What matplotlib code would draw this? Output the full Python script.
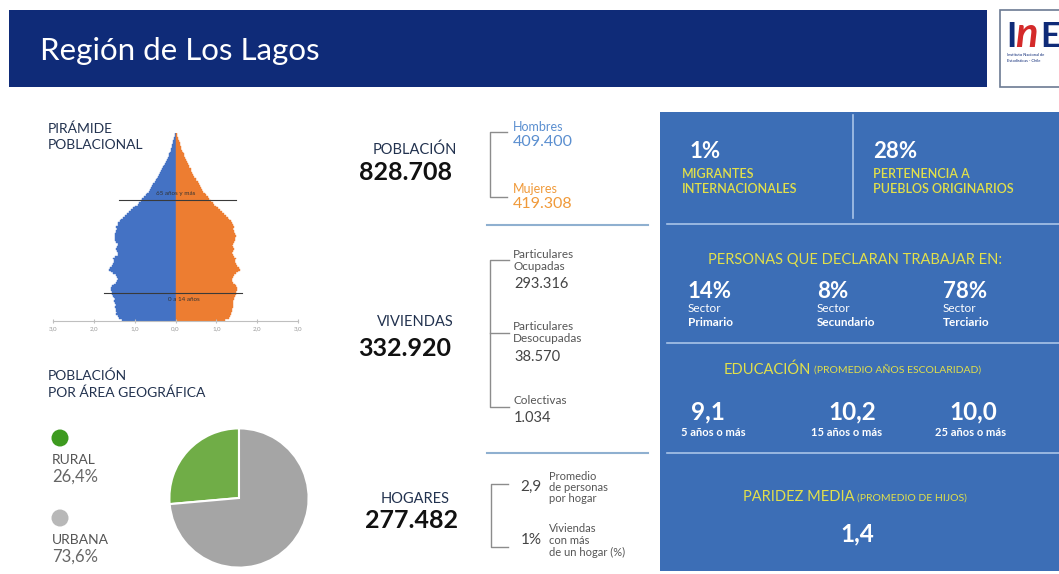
import matplotlib.pyplot as plt
import matplotlib.patches as mpatches
import numpy as np

plt.rcParams['font.family'] = ['Lato', 'DejaVu Sans']

# pirámide poblacional: % por sexo, edades simples 0..100
hombres = [1.30, 1.38, 1.42, 1.45, 1.44, 1.46, 1.45, 1.47, 1.46, 1.48,
           1.50, 1.49, 1.51, 1.53, 1.55, 1.56, 1.57, 1.58, 1.55, 1.50,
           1.46, 1.43, 1.42, 1.44, 1.46, 1.52, 1.58, 1.62, 1.60, 1.56,
           1.52, 1.50, 1.51, 1.52, 1.47, 1.42, 1.40, 1.43, 1.46, 1.44,
           1.40, 1.42, 1.46, 1.48, 1.47, 1.49, 1.47, 1.45, 1.46, 1.44,
           1.45, 1.42, 1.40, 1.37, 1.33, 1.28, 1.23, 1.18, 1.13, 1.08,
           1.03, 0.98, 0.93, 0.89, 0.85, 0.81, 0.77, 0.73, 0.70, 0.66,
           0.63, 0.60, 0.57, 0.54, 0.51, 0.48, 0.45, 0.42, 0.40, 0.37,
           0.35, 0.32, 0.30, 0.27, 0.25, 0.23, 0.21, 0.19, 0.17, 0.15,
           0.13, 0.12, 0.10, 0.09, 0.08, 0.06, 0.05, 0.04, 0.03, 0.02, 0.02]
mujeres = [1.22, 1.30, 1.34, 1.37, 1.36, 1.39, 1.38, 1.40, 1.41, 1.40,
           1.42, 1.44, 1.43, 1.45, 1.47, 1.49, 1.50, 1.51, 1.49, 1.45,
           1.41, 1.39, 1.38, 1.40, 1.43, 1.48, 1.53, 1.57, 1.55, 1.51,
           1.47, 1.45, 1.46, 1.48, 1.44, 1.40, 1.38, 1.41, 1.44, 1.42,
           1.39, 1.41, 1.44, 1.46, 1.45, 1.47, 1.45, 1.43, 1.44, 1.42,
           1.43, 1.41, 1.39, 1.36, 1.32, 1.28, 1.23, 1.18, 1.13, 1.09,
           1.04, 1.00, 0.95, 0.91, 0.87, 0.83, 0.79, 0.75, 0.72, 0.68,
           0.65, 0.62, 0.59, 0.57, 0.54, 0.51, 0.49, 0.46, 0.44, 0.41,
           0.39, 0.37, 0.34, 0.32, 0.30, 0.28, 0.26, 0.24, 0.22, 0.20,
           0.18, 0.16, 0.14, 0.13, 0.11, 0.10, 0.08, 0.07, 0.05, 0.04, 0.03]
pyr_ticks = [-3, -2, -1, 0, 1, 2, 3]
pyr_ticklabels = ['3,0', '2,0', '1,0', '0,0', '1,0', '2,0', '3,0']

# área geográfica
area_labels = ['RURAL', 'URBANA']
area_values = [26.4, 73.6]
area_texts = ['26,4%', '73,6%']

# columna central
poblacion = '828.708'
sexo_labels = ['Hombres', 'Mujeres']
sexo_values = ['409.400', '419.308']
viviendas = '332.920'
viv_labels = [['Particulares', 'Ocupadas'], ['Particulares', 'Desocupadas'], ['Colectivas']]
viv_values = ['293.316', '38.570', '1.034']
hogares = '277.482'
hog_values = ['2,9', '1%']
hog_labels = [['Promedio', 'de personas', 'por hogar'], ['Viviendas', 'con más', 'de un hogar (%)']]

# panel derecho
migrantes = '1%'
pueblos = '28%'
sector_values = ['14%', '8%', '78%']
sector_labels = ['Primario', 'Secundario', 'Terciario']
edu_values = ['9,1', '10,2', '10,0']
edu_labels = ['5 años o más', '15 años o más', '25 años o más']
paridez = '1,4'

NAVY = '#0f2b78'
PANEL = '#3c6eb6'
YELLOW = '#e2e04a'
BLUE = '#4472c4'
ORANGE = '#ed7d31'
HEAD = '#22324f'

W, H = 1059, 574
fig = plt.figure(figsize=(W / 100, H / 100), dpi=100)
bg = fig.add_axes([0, 0, 1, 1])
bg.set_xlim(0, W)
bg.set_ylim(H, 0)
bg.axis('off')


def txt(x, y, s, size, color, weight='normal', ha='left', va='center', **kw):
    return bg.text(x, y, s, fontsize=size, color=color, fontweight=weight,
                   ha=ha, va=va, **kw)


def two_part(cx, y, big, small, s1, s2, color):
    t1 = bg.text(0, y, big, fontsize=s1, color=color, va='baseline')
    t2 = bg.text(0, y, small, fontsize=s2, color=color, va='baseline')
    r = fig.canvas.get_renderer()
    w1 = t1.get_window_extent(r).width
    w2 = t2.get_window_extent(r).width
    x0 = cx - (w1 + 3 + w2) / 2
    t1.set_x(x0)
    t2.set_x(x0 + w1 + 3)


# header
bg.add_patch(mpatches.Rectangle((9, 10), 978, 77, color=NAVY, lw=0))
txt(40, 51, 'Región de Los Lagos', 22.5, 'white')
bg.add_patch(mpatches.Rectangle((1000, 10), 80, 77, facecolor='white',
                                edgecolor='#6c7a92', lw=1.2))
txt(1006, 47, 'I', 25, NAVY, 'bold', va='baseline')
txt(1015, 47, 'n', 30, '#d42a2a', 'bold', va='baseline', style='italic')
txt(1040, 47, 'E', 25, NAVY, 'bold', va='baseline')
txt(1007, 55, 'Instituto Nacional de', 3, NAVY)
txt(1007, 61, 'Estadísticas - Chile', 3, NAVY)

# pirámide
txt(48, 129, 'PIRÁMIDE', 10, HEAD)
txt(48, 145, 'POBLACIONAL', 10, HEAD)
axp = fig.add_axes([53 / W, 1 - 321 / H, 245 / W, 188 / H])
edades = np.arange(len(hombres))
axp.barh(edades, -np.array(hombres), height=1.0, color=BLUE, edgecolor=BLUE, lw=0.3)
axp.barh(edades, mujeres, height=1.0, color=ORANGE, edgecolor=ORANGE, lw=0.3)
axp.plot([-1.38, 1.47], [64.5, 64.5], color='#3a3a3a', lw=0.8)
axp.plot([-1.75, 1.63], [14.5, 14.5], color='#3a3a3a', lw=0.8)
axp.text(0, 66.5, '65 años y más', fontsize=4.5, color='#333333', ha='center', va='bottom')
axp.text(0.2, 12.5, '0 a 14 años', fontsize=4.5, color='#333333', ha='center', va='top')
axp.set_xlim(-3, 3)
axp.set_ylim(-0.6, 100.5)
axp.set_xticks(pyr_ticks)
axp.set_xticklabels(pyr_ticklabels)
axp.set_yticks([])
for s in ['top', 'left', 'right']:
    axp.spines[s].set_visible(False)
axp.spines['bottom'].set_color('#bfbfbf')
axp.tick_params(axis='x', direction='inout', length=3, color='#bfbfbf',
                labelsize=4.5, labelcolor='#9a9a9a', pad=2)
axp.patch.set_alpha(0)

# área geográfica
txt(48, 376, 'POBLACIÓN', 10, HEAD)
txt(48, 393, 'POR ÁREA GEOGRÁFICA', 10, HEAD)
dot_colors = ['#3d9a1f', '#b8b8b8']
for i, (lab, val) in enumerate(zip(area_labels, area_texts)):
    y0 = 438 + i * 80
    bg.add_patch(mpatches.Circle((60, y0), 8.5, color=dot_colors[i], lw=0))
    txt(52, y0 + 22, lab, 10, '#555555')
    txt(52, y0 + 39, val, 12, '#666666')
axpie = fig.add_axes([168 / W, 1 - 569 / H, 142 / W, 142 / H])
axpie.pie(area_values, colors=['#70ad47', '#a5a5a5'], startangle=90,
          wedgeprops=dict(edgecolor='white', linewidth=1.5))
axpie.set_xlim(-1.02, 1.02)
axpie.set_ylim(-1.02, 1.02)
axpie.set_aspect('equal')

# columna central
GRAYL = '#8c8c8c'
txt(415, 150, 'POBLACIÓN', 10.5, HEAD, ha='center')
txt(406, 173, poblacion, 18, '#111111', 'bold', ha='center')
bg.plot([507, 490, 490, 507], [132, 132, 197, 197], color=GRAYL, lw=1)
sex_colors = ['#5b8fd0', '#f09a3a']
for i in range(2):
    y0 = 127 + i * 62
    txt(513, y0, sexo_labels[i], 9, sex_colors[i])
    txt(513, y0 + 15, sexo_values[i], 11.5, sex_colors[i])
bg.plot([487, 648], [225, 225], color='#8fb0d0', lw=1.5)

txt(415, 322, 'VIVIENDAS', 10.5, HEAD, ha='center')
txt(405, 348, viviendas, 18, '#111111', 'bold', ha='center')
bg.plot([509, 490, 490, 509], [260, 260, 407, 407], color=GRAYL, lw=1)
bg.plot([490, 509], [333, 333], color=GRAYL, lw=1)
viv_y = [254, 327, 400]
for lines, val, y0 in zip(viv_labels, viv_values, viv_y):
    for k, l in enumerate(lines):
        txt(513, y0 + k * 12, l, 8.5, '#555555')
    txt(514, y0 + len(lines) * 12 + 6, val, 10.5, '#444444')
bg.plot([487, 648], [453, 453], color='#8fb0d0', lw=1.5)

txt(415, 499, 'HOGARES', 10.5, HEAD, ha='center')
txt(411, 520, hogares, 18, '#111111', 'bold', ha='center')
bg.plot([508, 491, 491, 508], [484, 484, 547, 547], color=GRAYL, lw=1)
for i in range(2):
    y0 = 487 + i * 53
    txt(542, y0, hog_values[i], 11, '#444444', ha='right')
    for k, l in enumerate(hog_labels[i]):
        txt(549, y0 - 11 + k * 11.5, l, 8, '#555555')

# panel derecho
bg.add_patch(mpatches.Rectangle((660, 112), 410, 459, color=PANEL, lw=0))
LINEC = '#a9c4e8'
bg.plot([853, 853], [115, 218], color=LINEC, lw=1.2)
for yl in [224, 343, 453]:
    bg.plot([667, 1059], [yl, yl], color=LINEC, lw=1.2)

txt(690, 151, migrantes, 16, 'white', 'bold')
txt(682, 174, 'MIGRANTES', 9, YELLOW, 'semibold')
txt(682, 189, 'INTERNACIONALES', 9, YELLOW, 'semibold')
txt(873, 151, pueblos, 16, 'white', 'bold')
txt(873, 174, 'PERTENENCIA A', 9, YELLOW, 'semibold')
txt(873, 189, 'PUEBLOS ORIGINARIOS', 9, YELLOW, 'semibold')

txt(855, 260, 'PERSONAS QUE DECLARAN TRABAJAR EN:', 10.5, YELLOW, ha='center')
for xs, v, lab in zip([688, 817, 943], sector_values, sector_labels):
    txt(xs, 291, v, 16, 'white', 'bold')
    txt(xs, 309, 'Sector', 8.5, 'white')
    txt(xs, 322, lab, 8.5, 'white', 'bold')

two_part(852, 374, 'EDUCACIÓN', '(PROMEDIO AÑOS ESCOLARIDAD)', 10.5, 7.5, YELLOW)
for cx, cl, v, lab in zip([708, 852, 973], [713, 847, 971], edu_values, edu_labels):
    txt(cx, 412, v, 17.5, 'white', 'bold', ha='center')
    txt(cl, 433, lab, 8, 'white', 'bold', ha='center')

two_part(855, 501, 'PARIDEZ MEDIA', '(PROMEDIO DE HIJOS)', 10.5, 7.5, YELLOW)
txt(857, 534, paridez, 17.5, 'white', 'bold', ha='center')

fig.savefig('out.png', dpi=100)
